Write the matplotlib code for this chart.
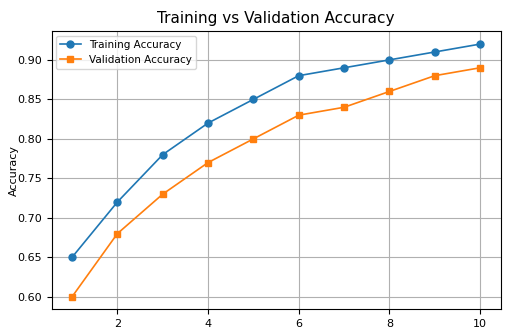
import matplotlib
matplotlib.use('Agg')
import matplotlib.pyplot as plt

# data
epochs = [1, 2, 3, 4, 5, 6, 7, 8, 9, 10]
train_acc = [0.65, 0.72, 0.78, 0.82, 0.85, 0.88, 0.89, 0.90, 0.91, 0.92]
val_acc = [0.60, 0.68, 0.73, 0.77, 0.80, 0.83, 0.84, 0.86, 0.88, 0.89]

fig, ax = plt.subplots(figsize=(5.16, 3.31), dpi=100)
ax.plot(epochs, train_acc, marker='o', markersize=5, linewidth=1.2, label='Training Accuracy')
ax.plot(epochs, val_acc, marker='s', markersize=5, linewidth=1.2, label='Validation Accuracy')
ax.set_title('Training vs Validation Accuracy', fontsize=11)
ax.set_ylabel('Accuracy', fontsize=8)
ax.yaxis.set_label_coords(-0.073, 0.5)
ax.tick_params(labelsize=8)
ax.legend(fontsize=7.5, loc='upper left', borderaxespad=0.4)
ax.grid(True)
plt.subplots_adjust(left=0.10, right=0.97, top=0.905, bottom=0.065)
plt.savefig('out.png')
